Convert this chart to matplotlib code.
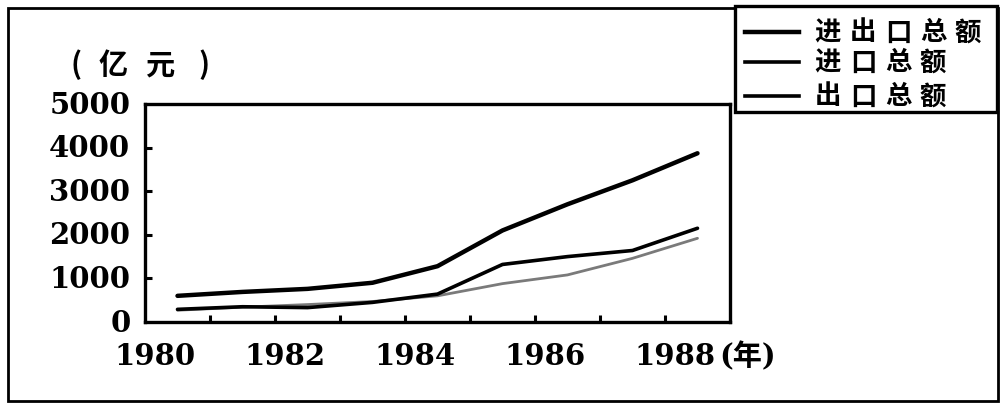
import matplotlib
matplotlib.use("Agg")
import matplotlib.pyplot as plt
from matplotlib.lines import Line2D
from matplotlib.patches import Rectangle

# values (亿元), plotted mid-year
years = [1980.5, 1981.5, 1982.5, 1983.5, 1984.5, 1985.5, 1986.5, 1987.5, 1988.5]
total = [600, 690, 760, 900, 1280, 2100, 2700, 3250, 3870]
imports = [290, 350, 330, 450, 640, 1320, 1500, 1640, 2150]
exports = [270, 340, 400, 470, 600, 880, 1080, 1460, 1920]

y_ticks = [0, 1000, 2000, 3000, 4000, 5000]
x_minor = [1981, 1982, 1983, 1984, 1985, 1986, 1987, 1988]
x_labels = [1980, 1982, 1984, 1986, 1988]
legend_names = ["进出口总额", "进口总额", "出口总额"]
unit_chars = ["(", "亿", "元", ")"]

W, H = 1008, 414
cjk = ["Noto Sans CJK SC", "DejaVu Sans"]
num_font = ["DejaVu Serif", "Noto Sans CJK SC"]


def fx(px):
    return px / W


def fy(py):
    return 1 - py / H


fig = plt.figure(figsize=(W / 100, H / 100), dpi=100)
fig.patch.set_facecolor("white")

# outer frame of the scanned figure
fig.add_artist(Rectangle((fx(8), fy(402)), fx(990), (402 - 9) / H,
                         transform=fig.transFigure, fill=False,
                         edgecolor="black", linewidth=2.0))

ax = fig.add_axes([fx(145), fy(323), fx(730 - 145), (323 - 105) / H])
ax.plot(years, total, color="black", linewidth=3.2, solid_capstyle="round",
        solid_joinstyle="round")
ax.plot(years, exports, color="#7a7a7a", linewidth=2.0, solid_capstyle="round",
        solid_joinstyle="round")
ax.plot(years, imports, color="black", linewidth=2.6, solid_capstyle="round",
        solid_joinstyle="round")

ax.set_xlim(1980, 1989)
ax.set_ylim(0, 5000)
for s in ax.spines.values():
    s.set_linewidth(2.4)
ax.set_xticks(x_minor)
ax.set_xticklabels([])
ax.set_yticks(y_ticks[1:-1])
ax.set_yticklabels([])
ax.tick_params(direction="in", length=5, width=2.2)

for v in y_ticks:
    ax.text(-0.025, v / 5000, str(v), transform=ax.transAxes, ha="right",
            va="center", fontsize=21, fontweight="bold", family=num_font)
for yr in x_labels:
    ax.text(yr + 0.15, -0.155, str(yr), transform=ax.get_xaxis_transform(),
            ha="center", va="center", fontsize=21, fontweight="bold",
            family=num_font)
fig.text(fx(748), fy(357), "(年)", ha="center", va="center", fontsize=21,
         fontweight="bold", family=num_font)

# unit label, widely spaced like the scan
for ch, cx in zip(unit_chars, [76, 113, 160, 204]):
    fig.text(fx(cx), fy(65), ch, ha="center", va="center", fontsize=21,
             fontweight="bold", family=cjk)

# legend box in the top right corner
fig.add_artist(Rectangle((fx(735), fy(113)), fx(997 - 735), (113 - 7) / H,
                         transform=fig.transFigure, facecolor="white",
                         edgecolor="black", linewidth=2.4))
rows = [33, 63, 97]
widths = [3.2, 2.6, 2.6]
for name, ry, lw in zip(legend_names, rows, widths):
    fig.add_artist(Line2D([fx(745), fx(799)], [fy(ry), fy(ry)],
                          transform=fig.transFigure, color="black",
                          linewidth=lw))
    for i, ch in enumerate(name):
        fig.text(fx(828 + i * 35), fy(ry), ch, ha="center", va="center",
                 fontsize=19, fontweight="bold", family=cjk)

fig.savefig("out.png", dpi=100, facecolor="white")
